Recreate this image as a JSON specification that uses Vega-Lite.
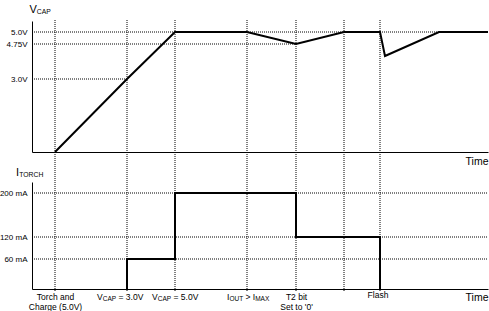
{
  "$schema": "https://vega.github.io/schema/vega-lite/v6.json",
  "width": 456,
  "height": 272,
  "autosize": {"type": "none"},
  "padding": {"left": 32, "top": 20, "right": 1, "bottom": 19},
  "background": "white",
  "config": {
    "view": {"stroke": null},
    "font": "Liberation Sans",
    "axis": {"domainColor": "#000", "domainWidth": 1, "ticks": false, "tickSize": 0, "grid": false, "labelFont": "Liberation Sans", "labelFontSize": 8, "labelColor": "#000", "titleFont": "Liberation Sans", "titleFontWeight": "normal", "titleColor": "#000"},
    "text": {"font": "Liberation Sans", "color": "#000"}
  },
  "datasets": {
    "events": [{"t": 23}, {"t": 95}, {"t": 143}, {"t": 215}, {"t": 264}, {"t": 312}, {"t": 348}],
    "vcap": [{"t": 23, "v": 0}, {"t": 95, "v": 3.0}, {"t": 143, "v": 5.0}, {"t": 215, "v": 5.0}, {"t": 264, "v": 4.75}, {"t": 312, "v": 5.0}, {"t": 348, "v": 5.0}, {"t": 353, "v": 4.15}, {"t": 407, "v": 5.0}, {"t": 456, "v": 5.0}],
    "vref": [{"t": 0, "t2": 456, "v": 5.0}, {"t": 0, "t2": 264, "v": 4.75}, {"t": 0, "t2": 95, "v": 3.0}],
    "vtitle": [{"t": 0, "v": 5.45}],
    "itorch": [{"k": 1, "t": 95, "i": 0}, {"k": 2, "t": 95, "i": 60}, {"k": 3, "t": 143, "i": 60}, {"k": 4, "t": 143, "i": 200}, {"k": 5, "t": 264, "i": 200}, {"k": 6, "t": 264, "i": 120}, {"k": 7, "t": 348, "i": 120}, {"k": 8, "t": 348, "i": 0}],
    "iref": [{"t": 0, "t2": 456, "i": 200}, {"t": 0, "t2": 456, "i": 120}, {"t": 0, "t2": 456, "i": 60}],
    "ititle": [{"t": 0, "i": 220}],
    "lab2line": [{"t": 23, "i": 0, "label": "Torch and\nCharge (5.0V)"}, {"t": 264, "i": 0, "label": "T2 bit\nSet to '0'"}],
    "labflash": [{"t": 348, "i": 0, "label": "Flash"}],
    "labv1": [{"t": 95, "i": 0, "rest": "= 3.0V"}],
    "labv2": [{"t": 143, "i": 0, "rest": "= 5.0V"}],
    "labiout": [{"t": 215, "i": 0}]
  },
  "layer": [
    {
      "data": {"name": "events"},
      "mark": {"type": "rule", "color": "#000", "strokeWidth": 1, "strokeDash": [1, 1]},
      "encoding": {
        "x": {"field": "t", "type": "quantitative", "scale": {"domain": [0, 456], "nice": false, "zero": false}, "axis": null}
      }
    },
    {
      "encoding": {
        "x": {"field": "t", "type": "quantitative", "title": "Time", "scale": {"domain": [0, 456], "nice": false, "zero": false}, "axis": {"orient": "bottom", "offset": -140, "labels": false, "titleAnchor": "end", "titleAlign": "right", "titleFontSize": 10.5, "titlePadding": 4}},
        "y": {"field": "v", "type": "quantitative", "title": null, "scale": {"domain": [0, 3, 4.75, 5, 5.45], "range": [132, 59, 24, 12, 1], "nice": false, "zero": false}, "axis": {"orient": "left", "values": [3, 4.75, 5], "labelExpr": "datum.value == 4.75 ? '4.75V' : format(datum.value, '.1f') + 'V'", "labelPadding": 5}}
      },
      "layer": [
        {
          "data": {"name": "vref"},
          "mark": {"type": "rule", "color": "#000", "strokeWidth": 1, "strokeDash": [1, 1]},
          "encoding": {"x2": {"field": "t2"}}
        },
        {
          "data": {"name": "vcap"},
          "mark": {"type": "line", "color": "#000", "strokeWidth": 2}
        },
        {
          "data": {"name": "vtitle"},
          "mark": {"type": "text", "text": "V", "align": "left", "baseline": "alphabetic", "dx": -2.5, "dy": -8, "fontSize": 11}
        },
        {
          "data": {"name": "vtitle"},
          "mark": {"type": "text", "text": "CAP", "align": "left", "baseline": "alphabetic", "dx": 4.8, "dy": -7.5, "fontSize": 6.8}
        }
      ]
    },
    {
      "encoding": {
        "x": {"field": "t", "type": "quantitative", "title": "Time", "scale": {"domain": [0, 456], "nice": false, "zero": false}, "axis": {"orient": "bottom", "offset": -3, "labels": false, "titleAnchor": "end", "titleAlign": "right", "titleFontSize": 10.5, "titlePadding": 3}},
        "y": {"field": "i", "type": "quantitative", "title": null, "scale": {"domain": [0, 60, 120, 200, 220], "range": [269, 239, 217, 173, 162], "nice": false, "zero": false}, "axis": {"orient": "left", "values": [60, 120, 200], "labelExpr": "datum.value + ' mA'", "labelPadding": 5}}
      },
      "layer": [
        {
          "data": {"name": "iref"},
          "mark": {"type": "rule", "color": "#000", "strokeWidth": 1, "strokeDash": [1, 1]},
          "encoding": {"x2": {"field": "t2"}}
        },
        {
          "data": {"name": "itorch"},
          "mark": {"type": "line", "color": "#000", "strokeWidth": 2},
          "encoding": {"order": {"field": "k", "type": "quantitative"}}
        },
        {
          "data": {"name": "ititle"},
          "mark": {"type": "text", "text": "I", "align": "left", "baseline": "alphabetic", "dx": -16, "dy": -6, "fontSize": 11}
        },
        {
          "data": {"name": "ititle"},
          "mark": {"type": "text", "text": "TORCH", "align": "left", "baseline": "alphabetic", "dx": -12.7, "dy": -5.5, "fontSize": 6.8}
        },
        {
          "data": {"name": "lab2line"},
          "mark": {"type": "text", "align": "center", "baseline": "alphabetic", "dy": 10.5, "dx": 0.5, "fontSize": 8.5, "lineBreak": "\n", "lineHeight": 10},
          "encoding": {"text": {"field": "label"}}
        },
        {
          "data": {"name": "labflash"},
          "mark": {"type": "text", "align": "center", "baseline": "alphabetic", "dy": 8.5, "dx": -2, "fontSize": 8.5},
          "encoding": {"text": {"field": "label"}}
        },
        {
          "data": {"name": "labv1"},
          "mark": {"type": "text", "text": "V", "align": "left", "baseline": "alphabetic", "dx": -30, "dy": 10.5, "fontSize": 8.5}
        },
        {
          "data": {"name": "labv1"},
          "mark": {"type": "text", "text": "CAP", "align": "left", "baseline": "alphabetic", "dx": -24.3, "dy": 12, "fontSize": 6.5}
        },
        {
          "data": {"name": "labv1"},
          "mark": {"type": "text", "align": "left", "baseline": "alphabetic", "dx": -8.5, "dy": 10.5, "fontSize": 8.5},
          "encoding": {"text": {"field": "rest"}}
        },
        {
          "data": {"name": "labv2"},
          "mark": {"type": "text", "text": "V", "align": "left", "baseline": "alphabetic", "dx": -23, "dy": 10.5, "fontSize": 8.5}
        },
        {
          "data": {"name": "labv2"},
          "mark": {"type": "text", "text": "CAP", "align": "left", "baseline": "alphabetic", "dx": -17.3, "dy": 12, "fontSize": 6.5}
        },
        {
          "data": {"name": "labv2"},
          "mark": {"type": "text", "align": "left", "baseline": "alphabetic", "dx": -1.5, "dy": 10.5, "fontSize": 8.5},
          "encoding": {"text": {"field": "rest"}}
        },
        {
          "data": {"name": "labiout"},
          "mark": {"type": "text", "text": "I", "align": "left", "baseline": "alphabetic", "dx": -20, "dy": 10.5, "fontSize": 8.5}
        },
        {
          "data": {"name": "labiout"},
          "mark": {"type": "text", "text": "OUT", "align": "left", "baseline": "alphabetic", "dx": -17.6, "dy": 12, "fontSize": 6.5}
        },
        {
          "data": {"name": "labiout"},
          "mark": {"type": "text", "text": "> I", "align": "left", "baseline": "alphabetic", "dx": -1.5, "dy": 10.5, "fontSize": 8.5}
        },
        {
          "data": {"name": "labiout"},
          "mark": {"type": "text", "text": "MAX", "align": "left", "baseline": "alphabetic", "dx": 8.2, "dy": 12, "fontSize": 6.5}
        }
      ]
    }
  ],
  "resolve": {"scale": {"y": "independent"}, "axis": {"x": "independent", "y": "independent"}}
}
